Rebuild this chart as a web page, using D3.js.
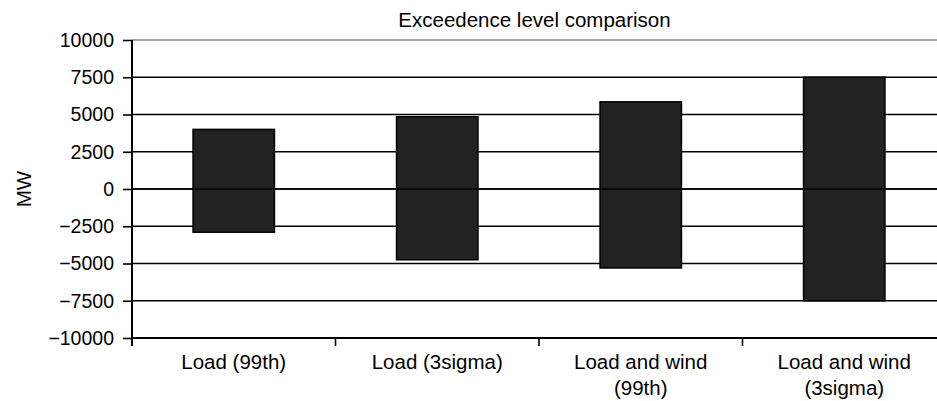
<!DOCTYPE html>
<html>
<head>
<meta charset="utf-8">
<script src="https://cdn.jsdelivr.net/npm/d3@7"></script>
<style>
  body { margin: 0; background: #fff; }
  svg { display: block; overflow: hidden; }
  text { font-family: Arial, "Liberation Sans", sans-serif; fill: #000; }
</style>
</head>
<body>
<svg id="chart" width="937" height="401"></svg>
<script>
var categories = ["Load (99th)", "Load (3sigma)", "Load and wind\n(99th)", "Load and wind\n(3sigma)"];
var upperValues = [4000, 4850, 5850, 7500];
var lowerValues = [-2900, -4750, -5300, -7500];
var yTicks = [10000, 7500, 5000, 2500, 0, -2500, -5000, -7500, -10000];
var chartTitle = "Exceedence level comparison";
var yTitle = "MW";

var plotLeft = 132, plotTop = 40, plotW = 814, plotH = 298;

var svg = d3.select("svg#chart");

var x = d3.scaleBand()
    .domain(categories)
    .range([plotLeft, plotLeft + plotW])
    .paddingInner(0.6)
    .paddingOuter(0.3);

var y = d3.scaleLinear()
    .domain([-10000, 10000])
    .range([plotTop + plotH, plotTop]);

function fmt(v) {
    return v < 0 ? "\u2212" + Math.abs(v) : String(v);
}

// gridlines
svg.append("g")
    .selectAll("line")
    .data(yTicks.filter(function(d) { return d > -10000; }))
    .enter()
    .append("line")
    .attr("x1", plotLeft)
    .attr("x2", 937)
    .attr("y1", function(d) { return y(d); })
    .attr("y2", function(d) { return y(d); })
    .attr("stroke", function(d) { return d == 10000 ? "#888" : "#000"; })
    .attr("stroke-width", 1.6);

// bars
svg.append("g")
    .selectAll("rect")
    .data(categories)
    .enter()
    .append("rect")
    .attr("x", function(d) { return x(d); })
    .attr("width", x.bandwidth())
    .attr("y", function(d, i) { return y(upperValues[i]); })
    .attr("height", function(d, i) { return y(lowerValues[i]) - y(upperValues[i]); })
    .attr("fill", "#222")
    .attr("stroke", "#000")
    .attr("stroke-width", 1.5);

// zero line over the bars
svg.append("line")
    .attr("x1", plotLeft)
    .attr("x2", 937)
    .attr("y1", y(0))
    .attr("y2", y(0))
    .attr("stroke", "#000")
    .attr("stroke-width", 1.6);

// y axis
var yAxis = d3.axisLeft(y)
    .tickValues(yTicks)
    .tickSize(9)
    .tickPadding(9)
    .tickFormat(fmt);

var gy = svg.append("g")
    .attr("transform", "translate(" + plotLeft + ",0)")
    .call(yAxis);
gy.select(".domain").remove();
gy.selectAll(".tick line").attr("stroke", "#000").attr("stroke-width", 1.6);
gy.selectAll(".tick text").attr("font-size", 19.5).style("font-family", "Arial, 'Liberation Sans', sans-serif");

svg.append("line")
    .attr("x1", plotLeft)
    .attr("x2", plotLeft)
    .attr("y1", plotTop)
    .attr("y2", plotTop + plotH + 8)
    .attr("stroke", "#000")
    .attr("stroke-width", 2);

// x axis
svg.append("line")
    .attr("x1", plotLeft)
    .attr("x2", 937)
    .attr("y1", plotTop + plotH)
    .attr("y2", plotTop + plotH)
    .attr("stroke", "#000")
    .attr("stroke-width", 2);

var step = x.step();
svg.append("g")
    .selectAll("line")
    .data(categories.slice(1))
    .enter()
    .append("line")
    .attr("x1", function(d) { return x(d) - (step - x.bandwidth()) / 2; })
    .attr("x2", function(d) { return x(d) - (step - x.bandwidth()) / 2; })
    .attr("y1", plotTop + plotH)
    .attr("y2", plotTop + plotH + 8)
    .attr("stroke", "#000")
    .attr("stroke-width", 1.6);

var labels = svg.append("g")
    .selectAll("text")
    .data(categories)
    .enter()
    .append("text")
    .attr("x", function(d) { return x(d) + x.bandwidth() / 2; })
    .attr("y", plotTop + plotH + 31)
    .attr("text-anchor", "middle")
    .attr("font-size", 20.5);

labels.each(function(d) {
    var lines = d.split("\n");
    var t = d3.select(this);
    lines.forEach(function(s, k) {
        t.append("tspan")
            .attr("x", x(d) + x.bandwidth() / 2)
            .attr("dy", k == 0 ? 0 : 26)
            .text(s);
    });
});

// titles
svg.append("text")
    .attr("x", (plotLeft + 937) / 2)
    .attr("y", 27)
    .attr("text-anchor", "middle")
    .attr("font-size", 20.5)
    .text(chartTitle);

svg.append("text")
    .attr("transform", "translate(31," + y(0) + ") rotate(-90)")
    .attr("text-anchor", "middle")
    .attr("font-size", 20.5)
    .text(yTitle);
</script>
</body>
</html>
